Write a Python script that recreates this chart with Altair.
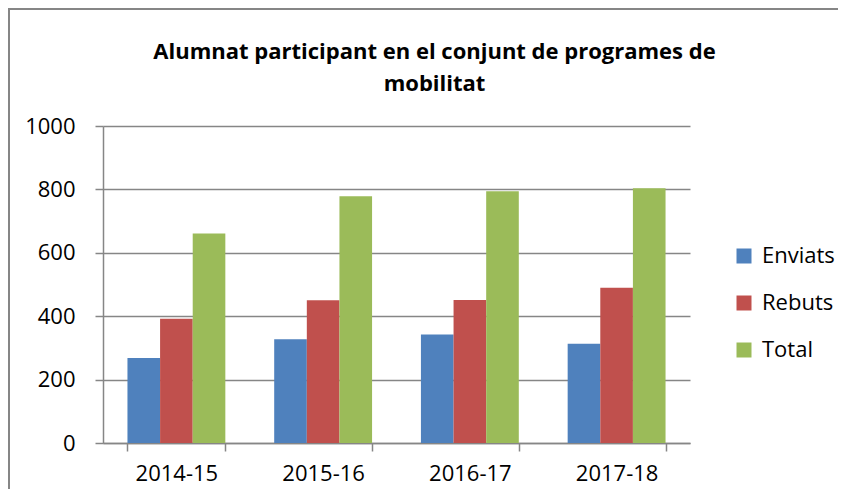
import altair as alt
import pandas as pd

categories = ["2014-15", "2015-16", "2016-17", "2017-18"]
series = ["Enviats", "Rebuts", "Total"]
enviats = [268, 327, 342, 313]
rebuts = [392, 450, 451, 490]
total = [661, 778, 794, 804]
colors = ["#4F81BD", "#C0504D", "#9BBB59"]
y_ticks = [0, 200, 400, 600, 800, 1000]
title_lines = ["Alumnat participant en el conjunt de programes de", "mobilitat"]

rows = []
for i, c in enumerate(categories):
    for s, vals in zip(series, [enviats, rebuts, total]):
        rows.append({"curs": c, "serie": s, "valor": vals[i]})
df = pd.DataFrame(rows)

FONT = "Open Sans"
GRAY = "#868686"

bars = alt.Chart(df).mark_bar().encode(
    x=alt.X("curs:N", sort=categories,
            scale=alt.Scale(paddingInner=0.333, paddingOuter=0.1667),
            axis=alt.Axis(title=None, labelAngle=0, tickBand="extent", tickSize=8,
                          labelPadding=12, labelFontSize=22, labelFont=FONT,
                          labelColor="#000000", domainColor=GRAY, tickColor=GRAY,
                          domainWidth=1.5, tickWidth=1.5, grid=False)),
    xOffset=alt.XOffset("serie:N", sort=series,
                        scale=alt.Scale(paddingInner=0, paddingOuter=0)),
    y=alt.Y("valor:Q", scale=alt.Scale(domain=[0, 1000], nice=False),
            axis=alt.Axis(title=None, values=y_ticks, format="d", tickSize=8,
                          labelPadding=20, labelFontSize=22, labelFont=FONT,
                          labelColor="#000000", domainColor=GRAY, tickColor=GRAY,
                          domainWidth=1.5, tickWidth=1.5,
                          grid=True, gridColor=GRAY, gridWidth=1.5)),
    color=alt.Color("serie:N", sort=series,
                    scale=alt.Scale(domain=series, range=colors),
                    legend=alt.Legend(title=None, orient="none", legendX=630, legendY=119,
                                      symbolType="square", symbolSize=225,
                                      symbolStrokeWidth=0, labelFontSize=22,
                                      labelFont=FONT, labelColor="#000000",
                                      labelOffset=7, rowPadding=25)),
)

frame_data = pd.DataFrame({"k": [0]})
left_edge = alt.Chart(frame_data).mark_rule(stroke=GRAY, strokeWidth=2).encode(
    x=alt.value(-94), y=alt.value(-118), y2=alt.value(363)
)
top_edge = alt.Chart(frame_data).mark_rule(stroke=GRAY, strokeWidth=2).encode(
    x=alt.value(-95), x2=alt.value(735), y=alt.value(-117)
)

chart = alt.layer(left_edge, top_edge, bars).properties(
    width=587, height=317,
    title=alt.TitleParams(text=title_lines, font=FONT, fontSize=22, fontWeight="bold",
                          color="#000000", anchor="middle", frame="group", dx=38,
                          offset=-89, lineHeight=32),
    autosize=alt.AutoSizeParams(type="none"),
    padding={"left": 95, "top": 118, "right": 148, "bottom": 46},
).configure_view(stroke=None)

chart.save("out.html", embed_options={"renderer": "svg", "actions": False})
